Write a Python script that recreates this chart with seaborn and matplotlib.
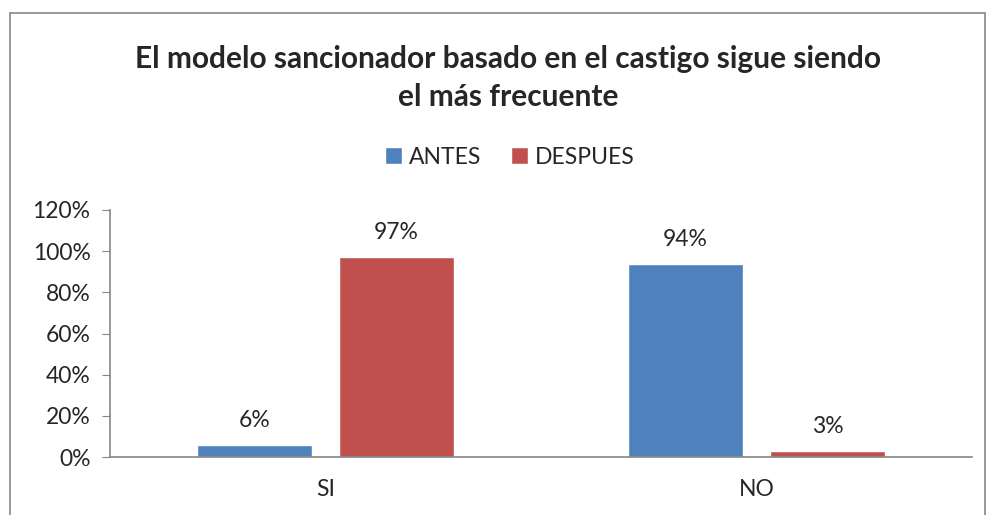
import pandas as pd
import matplotlib.pyplot as plt
import matplotlib.ticker as ticker
from matplotlib.patches import Rectangle
import seaborn as sns

categorias = ["SI", "NO"]
antes = [6, 94]
despues = [97, 3]
series = ["ANTES", "DESPUES"]
colores = ["#4F81BD", "#C0504D"]

sns.set_style("white")
plt.rcParams["font.family"] = ["Lato", "DejaVu Sans"]

df = pd.DataFrame({
    "Respuesta": categorias * 2,
    "Serie": [series[0]] * 2 + [series[1]] * 2,
    "Valor": antes + despues,
})

fig = plt.figure(figsize=(9.89, 5.15), dpi=100)
ax = fig.add_axes([110 / 989, 1 - 457 / 515, 862 / 989, 247 / 515])

sns.barplot(data=df, x="Respuesta", y="Valor", hue="Serie", order=categorias,
            hue_order=series, palette=colores, width=0.66, gap=0.19,
            saturation=1, ax=ax, legend=True)

for cont in ax.containers:
    ax.bar_label(cont, labels=["%d%%" % v for v in cont.datavalues],
                 padding=10, fontsize=16.5)

ax.set_ylim(0, 120)
ax.set_xlim(-0.5, 1.5)
ax.yaxis.set_major_locator(ticker.MultipleLocator(20))
ax.yaxis.set_major_formatter(ticker.FuncFormatter(lambda v, p: "%d%%" % v))
ax.set_xlabel("")
ax.set_ylabel("")
ax.tick_params(axis="y", length=6, color="#868686", labelsize=16.5, pad=8, left=True)
ax.tick_params(axis="x", length=0, labelsize=16.5, pad=16)
sns.despine(ax=ax, top=True, right=True)
for s in ["left", "bottom"]:
    ax.spines[s].set_color("#868686")
    ax.spines[s].set_linewidth(1.2)

ax.legend(loc="center", bbox_to_anchor=(510 / 989, 1 - 157 / 515),
          bbox_transform=fig.transFigure, ncol=2, frameon=False,
          fontsize=16.5, handlelength=0.75, handleheight=0.75,
          handletextpad=0.3, columnspacing=1.3)

fig.text(508 / 989, 1 - 78 / 515,
         "El modelo sancionador basado en el castigo sigue siendo\nel más frecuente",
         ha="center", va="center", fontsize=21.5, fontweight="bold",
         linespacing=1.45)

fig.patches.append(Rectangle((10 / 989, -0.05), 975 / 989, 1.05 - 13 / 515,
                             transform=fig.transFigure, fill=False,
                             edgecolor="#868686", linewidth=1.2))

fig.savefig("out.png", dpi=100)
